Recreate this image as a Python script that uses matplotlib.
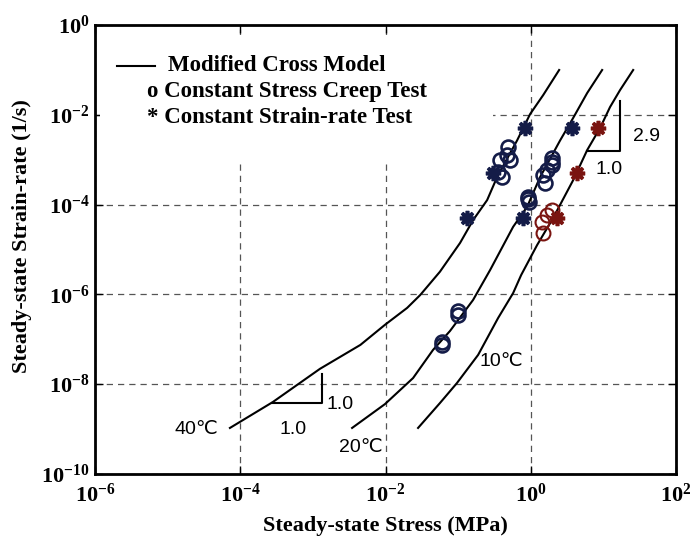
import matplotlib
matplotlib.use("Agg")
import matplotlib.pyplot as plt
from matplotlib.patches import Rectangle

plt.rcParams['font.family'] = 'Liberation Serif'
plt.rcParams['font.weight'] = 'bold'
plt.rcParams['axes.unicode_minus'] = False
plt.rcParams['mathtext.fontset'] = 'custom'
plt.rcParams['mathtext.rm'] = 'Liberation Serif:bold'
plt.rcParams['mathtext.bf'] = 'Liberation Serif:bold'

# model curves
stress_40 = [7.2e-5, 2.8e-4, 1.25e-3, 4.5e-3, 9.8e-3, 1.98e-2, 3.0e-2, 5.6e-2,
             0.106, 0.160, 0.250, 0.343, 0.647, 0.977, 1.48, 2.45]
rate_40 = [1.06e-9, 4.0e-9, 2.2e-8, 7.5e-8, 2.1e-7, 5.0e-7, 9.7e-7, 3.2e-6,
           1.4e-5, 4.5e-5, 1.26e-4, 4.1e-4, 2.7e-3, 1.04e-2, 2.76e-2, 9.95e-2]

stress_20 = [3.46e-3, 9.8e-3, 2.39e-2, 4.5e-2, 7.7e-2, 0.160, 0.275, 0.570,
             0.887, 1.34, 2.53, 3.82, 5.96, 9.57]
rate_20 = [1.06e-9, 3.6e-9, 1.37e-8, 5.8e-8, 1.53e-7, 7.5e-7, 3.5e-6, 3.2e-5,
           8.9e-5, 4.1e-4, 2.7e-3, 8.5e-3, 3.06e-2, 9.95e-2]

stress_10 = [2.8e-2, 5.6e-2, 9.6e-2, 0.188, 0.354, 0.570, 0.735, 1.22, 2.02,
             3.82, 5.96, 8.97, 12.3, 16.9, 25.6]
rate_10 = [1.06e-9, 3.8e-9, 1.06e-8, 4.5e-8, 2.98e-7, 1.07e-6, 2.7e-6, 1.26e-5,
           5.0e-5, 3.5e-4, 1.64e-3, 5.1e-3, 1.49e-2, 3.56e-2, 9.95e-2]

# constant stress creep tests
creep_stress = [0.491, 0.467, 0.378, 0.518, 0.357, 0.398,
                1.94, 1.98, 1.94, 1.66, 1.47, 1.57, 0.925, 0.925, 0.93,
                0.1005, 0.1005, 0.0594, 0.060]
creep_rate = [1.95e-3, 1.27e-3, 9.8e-4, 9.8e-4, 5.4e-4, 4.2e-4,
              1.07e-3, 9.0e-4, 7.6e-4, 5.9e-4, 4.6e-4, 3.0e-4, 1.5e-4, 1.3e-4, 1.16e-4,
              4.3e-7, 3.5e-7, 8.8e-8, 7.5e-8]
creep_stress_10 = [1.94, 1.66, 1.41, 1.49]
creep_rate_10 = [7.6e-5, 5.9e-5, 4.2e-5, 2.3e-5]

# constant strain-rate tests
csr_stress = [0.83, 3.7, 0.30, 0.13, 0.79]
csr_rate = [5e-3, 5e-3, 5e-4, 5e-5, 5e-5]
csr_stress_10 = [8.5, 4.3, 2.3]
csr_rate_10 = [5e-3, 5e-4, 5e-5]

navy = '#141c48'
dark_red = '#7a1410'

fig = plt.figure(figsize=(6.96, 5.46), dpi=100)
ax = fig.add_axes([0.1365, 0.1319, 0.835, 0.8223])
ax.set_xscale('log')
ax.set_yscale('log')
ax.set_xlim(1e-6, 1e2)
ax.set_ylim(1e-10, 1)
ax.set_xticks([1e-6, 1e-4, 1e-2, 1, 1e2])
ax.set_yticks([1e-10, 1e-8, 1e-6, 1e-4, 1e-2, 1])
ax.minorticks_off()
ax.grid(True, linestyle=(0, (5, 4)), color='#555555', linewidth=0.9)

ax.tick_params(direction='in', length=6, width=1, top=True, right=True,
               labelsize=16)
ax.tick_params(axis='x', pad=7)
ax.tick_params(axis='y', pad=4)
for sp in ax.spines.values():
    sp.set_linewidth(2)

for s, r in [(stress_40, rate_40), (stress_20, rate_20), (stress_10, rate_10)]:
    ax.plot(s, r, color='black', linewidth=1.5, zorder=3)

ax.plot(creep_stress, creep_rate, linestyle='none', marker='o', markersize=10,
        markerfacecolor='none', markeredgecolor=navy, markeredgewidth=1.9, zorder=4)
ax.plot(csr_stress_10, csr_rate_10, linestyle='none', marker=(8, 2, 0), markersize=11,
        markeredgecolor=dark_red, markeredgewidth=2.6, zorder=4)
ax.plot(creep_stress_10, creep_rate_10, linestyle='none', marker='o', markersize=10,
        markerfacecolor='none', markeredgecolor=dark_red, markeredgewidth=1.5, zorder=5)
ax.plot(csr_stress, csr_rate, linestyle='none', marker=(8, 2, 0), markersize=11,
        markeredgecolor=navy, markeredgewidth=2.6, zorder=4)

# slope triangles
ax.plot([2.71e-4, 1.32e-3, 1.32e-3], [3.87e-9, 3.87e-9, 1.66e-8], color='black', linewidth=1.5)
ax.plot([5.89, 16.6, 16.6], [1.56e-3, 1.56e-3, 2.03e-2], color='black', linewidth=1.5)

sans = ['Liberation Sans', 'DejaVu Sans']
ann = dict(family=sans, fontweight='normal', fontsize=14, ha='center', va='center')
ax.text(2.36e-3, 3.62e-9, '1.0', **ann)
ax.text(5.32e-4, 1.0e-9, '1.0', **ann)
ax.text(39.5, 3.25e-3, '2.9', **ann)
ax.text(12.1, 5.9e-4, '1.0', **ann)
ax.text(2.51e-5, 1.0e-9, '40℃', **ann)
ax.text(4.53e-3, 3.8e-10, '20℃', **ann)
ax.text(0.387, 3.17e-8, '10℃', **ann)

# legend drawn as text on a white box
ax.add_patch(Rectangle((0.009, 0.699), 0.676, 0.279, transform=ax.transAxes,
                       facecolor='white', edgecolor='none', zorder=2))
ax.plot([0.0375, 0.1035], [0.909, 0.909], transform=ax.transAxes, color='black',
        linewidth=1.5, zorder=3)
ax.text(0.125, 0.909, 'Modified Cross Model', transform=ax.transAxes,
        fontsize=16.5, va='center', zorder=3)
ax.text(0.0895, 0.852, 'o Constant Stress Creep Test', transform=ax.transAxes,
        fontsize=16.5, va='center', zorder=3)
ax.text(0.0895, 0.793, '* Constant Strain-rate Test', transform=ax.transAxes,
        fontsize=16.5, va='center', zorder=3)

ax.set_xlabel('Steady-state Stress (MPa)', fontsize=16, fontweight='bold')
ax.set_ylabel('Steady-state Strain-rate (1/s)', fontsize=16, fontweight='bold')
ax.xaxis.set_label_coords(0.50, -0.093)
ax.yaxis.set_label_coords(-0.108, 0.53)

fig.savefig('out.png', dpi=100)
